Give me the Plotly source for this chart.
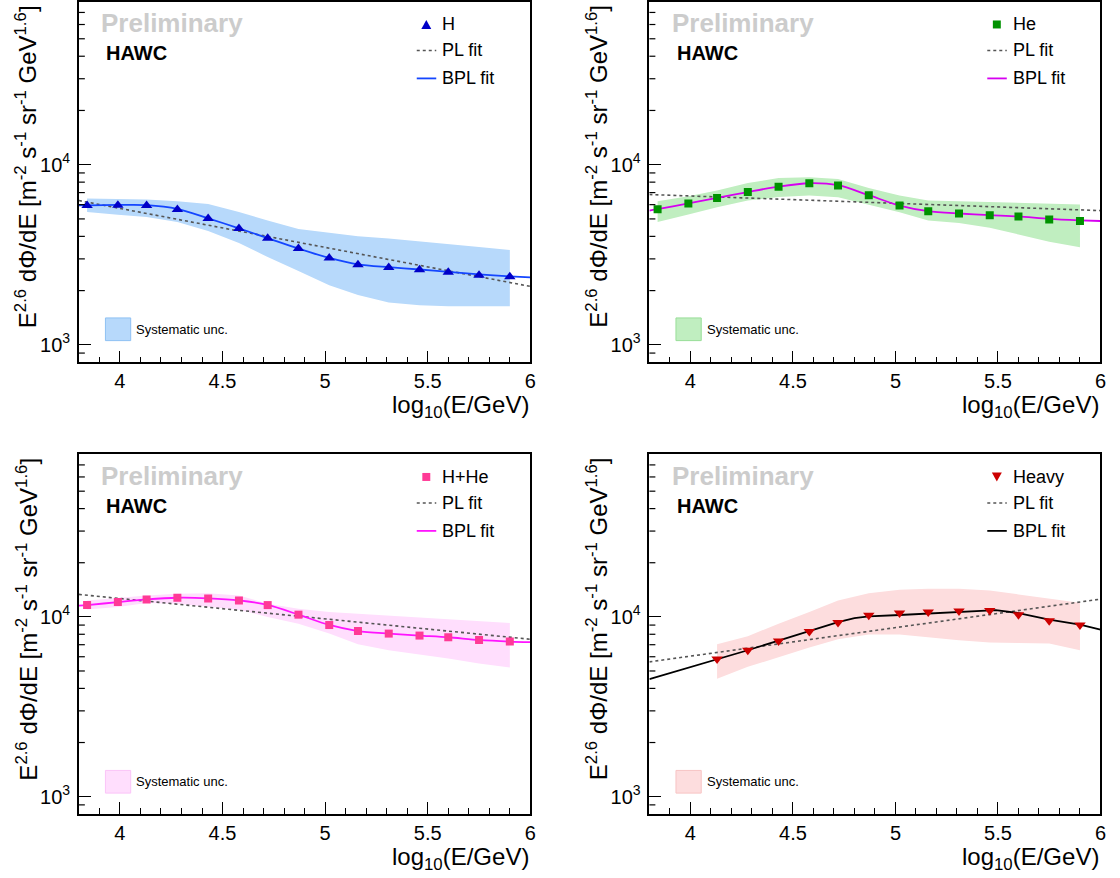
import math
import plotly.graph_objects as go

W, H = 1120, 878
FONT = "Liberation Sans, Arial, Helvetica, sans-serif"

# ---------------- data ----------------
log_e = [3.84, 3.99, 4.13, 4.28, 4.43, 4.58, 4.72, 4.87, 5.02, 5.16, 5.31, 5.46, 5.60, 5.75, 5.90]
heavy_e = [4.13, 4.28, 4.43, 4.58, 4.72, 4.87, 5.02, 5.16, 5.31, 5.46, 5.60, 5.75, 5.90]

h_flux = [5930, 5950, 5930, 5640, 5020, 4420, 3910, 3430, 3030, 2780, 2690, 2610, 2530, 2430, 2390]
h_sys_hi = [6490, 6460, 6400, 6260, 6050, 5470, 4900, 4400, 4180, 4010, 3890, 3760, 3640, 3490, 3360]
h_sys_lo = [5470, 5280, 5130, 4800, 4280, 3680, 3070, 2570, 2140, 1890, 1720, 1660, 1640, 1640, 1640]

he_flux = [5656, 6085, 6534, 7053, 7554, 7880, 7653, 6764, 5930, 5515, 5355, 5241, 5155, 4962, 4875]
he_sys_hi = [6265, 6676, 7180, 7913, 8430, 8505, 8325, 7422, 6735, 6321, 6265, 6210, 6130, 6085, 6007]
he_sys_lo = [4813, 5288, 5803, 6321, 6617, 6735, 6592, 6007, 5445, 4898, 4751, 4459, 4099, 3730, 3486]

hhe_flux = [11626, 12080, 12503, 12777, 12663, 12344, 11626, 10285, 9006, 8343, 8071, 7868, 7700, 7436, 7291]
hhe_sys_hi = [12344, 12777, 13154, 13443, 13548, 13154, 11834, 11100, 10632, 10416, 10153, 9936, 9650, 9444, 9241]
hhe_sys_lo = [11004, 11334, 11924, 11834, 11436, 10962, 9975, 9169, 8071, 7040, 6522, 6174, 5867, 5505, 5231]

heavy_flux = [5836, 6522, 7344, 8279, 9288, 10193, 10497, 10632, 10780, 10850, 10285, 9526, 9006]
heavy_sys_hi = [7040, 7798, 9169, 10632, 12344, 13548, 14149, 14331, 14331, 14024, 13330, 12614, 11988]
heavy_sys_lo = [4523, 5272, 5943, 6752, 7505, 7969, 7969, 7728, 7409, 7196, 7160, 7104, 6522]

# fitted curves
fit_e = [3.80, 3.84, 3.99, 4.13, 4.28, 4.43, 4.58, 4.72, 4.87, 5.02, 5.16, 5.31, 5.46, 5.60, 5.75, 5.90, 6.00]
h_bpl = [5950, 5950, 5980, 5970, 5690, 5040, 4430, 3910, 3420, 3040, 2800, 2700, 2620, 2540, 2460, 2400, 2370]
he_bpl = [5560, 5660, 6090, 6540, 7050, 7560, 7890, 7690, 6770, 5930, 5520, 5360, 5250, 5160, 5000, 4910, 4870]
hhe_bpl = [11550, 11630, 12080, 12500, 12770, 12680, 12350, 11640, 10290, 9010, 8340, 8070, 7870, 7700, 7440, 7290, 7230]
heavy_fit_e = [3.80, 4.13, 4.28, 4.43, 4.58, 4.72, 4.80, 4.87, 5.02, 5.16, 5.31, 5.49, 5.60, 5.75, 5.90, 6.00]
heavy_bpl = [4505, 5790, 6520, 7380, 8310, 9360, 9850, 10060, 10240, 10420, 10630, 10910, 10500, 9650, 9050, 8500]

pl_e = [3.80, 4.90, 6.00]
h_pl = [6320, 3650, 2110]
he_pl = [6830, 6160, 5560]
hhe_pl = [13330, 10000, 7505]
heavy_pl = [5619, 8400, 12550]

x_tick_vals = [4, 4.5, 5, 5.5, 6]
y_tick_vals = [1000, 10000]
y_tick_text = ["10<sup>3</sup>", "10<sup>4</sup>"]
y_minor_vals = [900, 2000, 3000, 4000, 5000, 6000, 7000, 8000, 9000,
                20000, 30000, 40000, 50000, 60000, 70000]
Y_MIN, Y_MAX = 800, 80000

YTITLE = ("E<sup>2.6</sup> dΦ/dE [m<sup>-2</sup> s<sup>-1</sup> sr<sup>-1</sup> "
          "GeV<sup>1.6</sup>]")
XTITLE = "log<sub>10</sub>(E/GeV)"

# ---------------- panel definitions (pixel frames) ----------------
panels = [
    dict(sfx="", box=(79.3, 533.2, 1.0, 361.7), label="H",
         e=log_e, flux=h_flux, hi=h_sys_hi, lo=h_sys_lo,
         fe=fit_e, bpl=h_bpl, pl=h_pl, shape="spline",
         symbol="triangle-up", msize=10, mcolor="#0000c8", lcolor="#1446ff",
         band="#b7d9fb", bandline="#8fc1f3", glyph="up"),
    dict(sfx="2", box=(652.9, 1106.4, 1.0, 361.7), label="He",
         e=log_e, flux=he_flux, hi=he_sys_hi, lo=he_sys_lo,
         fe=fit_e, bpl=he_bpl, pl=he_pl, shape="spline",
         symbol="square", msize=8, mcolor="#009200", lcolor="#d600f0",
         band="#c0eec0", bandline="#98de98", glyph="sq"),
    dict(sfx="3", box=(79.3, 533.2, 454.0, 814.0), label="H+He",
         e=log_e, flux=hhe_flux, hi=hhe_sys_hi, lo=hhe_sys_lo,
         fe=fit_e, bpl=hhe_bpl, pl=hhe_pl, shape="spline",
         symbol="square", msize=8, mcolor="#ff3a96", lcolor="#ff14ff",
         band="#ffdefd", bandline="#fbc4f8", glyph="sq"),
    dict(sfx="4", box=(652.9, 1106.4, 454.0, 814.0), label="Heavy",
         e=heavy_e, flux=heavy_flux, hi=heavy_sys_hi, lo=heavy_sys_lo,
         fe=heavy_fit_e, bpl=heavy_bpl, pl=heavy_pl, shape="linear",
         symbol="triangle-down", msize=10, mcolor="#cc0000", lcolor="#000000",
         band="#fdddde", bandline="#f7c4c4", glyph="down"),
]


def fx(px):
    return px / W


def fy(py):
    return 1 - py / H


fig = go.Figure()
shapes = []
annotations = []
layout_axes = {}

for p in panels:
    L, R, T, B = p["box"]
    xa = "x" + p["sfx"]
    ya = "y" + p["sfx"]

    # systematic band
    fig.add_trace(go.Scatter(
        x=list(p["e"]) + list(p["e"])[::-1],
        y=list(p["hi"]) + list(p["lo"])[::-1],
        fill="toself", fillcolor=p["band"], line=dict(width=0),
        mode="lines", hoverinfo="skip", xaxis=xa, yaxis=ya))
    # PL fit
    fig.add_trace(go.Scatter(
        x=pl_e, y=p["pl"], mode="lines",
        line=dict(color="#555555", width=1.6, dash="3px,3px"),
        xaxis=xa, yaxis=ya))
    # BPL fit
    fig.add_trace(go.Scatter(
        x=p["fe"], y=p["bpl"], mode="lines",
        line=dict(color=p["lcolor"], width=1.8, shape=p["shape"], smoothing=0.8),
        xaxis=xa, yaxis=ya))
    # data points
    fig.add_trace(go.Scatter(
        x=p["e"], y=p["flux"], mode="markers",
        marker=dict(symbol=p["symbol"], size=p["msize"], color=p["mcolor"],
                    line=dict(width=0)),
        xaxis=xa, yaxis=ya))

    layout_axes["xaxis" + p["sfx"]] = dict(
        domain=[fx(L), fx(R)], range=[3.8, 6.0], anchor=ya,
        showline=True, mirror=True, linecolor="black", linewidth=1.5,
        showgrid=False, zeroline=False,
        tickmode="array", tickvals=x_tick_vals,
        ticks="inside", ticklen=12, tickwidth=1.2, tickcolor="black",
        minor=dict(ticks="inside", ticklen=6, tickwidth=1.2, tickcolor="black",
                   dtick=0.1, tick0=3.8),
        tickfont=dict(family=FONT, size=20, color="black"))
    layout_axes["yaxis" + p["sfx"]] = dict(
        type="log", domain=[fy(B), fy(T)],
        range=[math.log10(Y_MIN), math.log10(Y_MAX)], anchor=xa,
        showline=True, mirror=True, linecolor="black", linewidth=1.5,
        showgrid=False, zeroline=False,
        tickmode="array", tickvals=y_tick_vals, ticktext=y_tick_text,
        ticks="inside", ticklen=12, tickwidth=1.2, tickcolor="black",
        ticklabelstandoff=3,
        tickfont=dict(family=FONT, size=20, color="black"))

    # minor log ticks on the y axis (drawn as short tick lines)
    lo_l, hi_l = math.log10(Y_MIN), math.log10(Y_MAX)
    for v in y_minor_vals:
        py = B - (math.log10(v) - lo_l) / (hi_l - lo_l) * (B - T)
        shapes.append(dict(type="line", xref="paper", yref="paper",
                           x0=fx(L), x1=fx(L + 6), y0=fy(py), y1=fy(py),
                           line=dict(color="black", width=1.2)))

    # axis titles
    annotations.append(dict(
        xref="paper", yref="paper", x=fx(L - 52.5), y=fy(T + 1),
        xanchor="center", yanchor="top", textangle=-90, text=YTITLE,
        showarrow=False, font=dict(family=FONT, size=24, color="black")))
    annotations.append(dict(
        xref="paper", yref="paper", x=fx(R + 1), y=fy(B + 44),
        xanchor="right", yanchor="middle", text=XTITLE,
        showarrow=False, font=dict(family=FONT, size=24, color="black")))

    # Preliminary / HAWC
    annotations.append(dict(
        xref="paper", yref="paper", x=fx(L + 20.5), y=fy(T + 21.5),
        xanchor="left", yanchor="middle", text="Preliminary",
        showarrow=False,
        font=dict(family=FONT, size=26, color="#cccccc", weight="bold")))
    annotations.append(dict(
        xref="paper", yref="paper", x=fx(L + 25.5), y=fy(T + 51.5),
        xanchor="left", yanchor="middle", text="HAWC",
        showarrow=False,
        font=dict(family=FONT, size=20, color="black", weight="bold")))

    # legend
    rows = [T + 22.5, T + 48.5, T + 76.5]
    cx, cy = L + 349.3, rows[0]
    if p["glyph"] == "up":
        pts = [(cx - 5, cy + 4.5), (cx + 5, cy + 4.5), (cx, cy - 4.5)]
    elif p["glyph"] == "down":
        pts = [(cx - 5, cy - 4.5), (cx + 5, cy - 4.5), (cx, cy + 4.5)]
    else:
        pts = [(cx - 4, cy - 4), (cx + 4, cy - 4), (cx + 4, cy + 4), (cx - 4, cy + 4)]
    path = "M " + " L ".join(f"{fx(a):.5f},{fy(b):.5f}" for a, b in pts) + " Z"
    shapes.append(dict(type="path", xref="paper", yref="paper", path=path,
                       fillcolor=p["mcolor"], line=dict(width=0)))
    shapes.append(dict(type="line", xref="paper", yref="paper",
                       x0=fx(L + 339.7), x1=fx(L + 359.3), y0=fy(rows[1]), y1=fy(rows[1]),
                       line=dict(color="#555555", width=1.6, dash="3px,3px")))
    shapes.append(dict(type="line", xref="paper", yref="paper",
                       x0=fx(L + 339.7), x1=fx(L + 359.3), y0=fy(rows[2]), y1=fy(rows[2]),
                       line=dict(color=p["lcolor"], width=1.8)))
    for txt, ry in zip([p["label"], "PL fit", "BPL fit"], rows):
        annotations.append(dict(
            xref="paper", yref="paper", x=fx(L + 363.5), y=fy(ry),
            xanchor="left", yanchor="middle", text=txt, showarrow=False,
            font=dict(family=FONT, size=18, color="black")))

    # systematic legend box
    shapes.append(dict(type="rect", xref="paper", yref="paper",
                       x0=fx(L + 26.7), x1=fx(L + 52.1), y0=fy(T + 339), y1=fy(T + 316.3),
                       fillcolor=p["band"], line=dict(color=p["bandline"], width=1)))
    annotations.append(dict(
        xref="paper", yref="paper", x=fx(L + 55.5), y=fy(T + 327.7),
        xanchor="left", yanchor="middle", text="Systematic unc.", showarrow=False,
        font=dict(family=FONT, size=13, color="black")))

fig.update_layout(
    width=W, height=H, autosize=False,
    margin=dict(l=0, r=0, t=0, b=0),
    paper_bgcolor="white", plot_bgcolor="white",
    showlegend=False,
    shapes=shapes, annotations=annotations,
    font=dict(family=FONT),
    **layout_axes)

fig.write_html("out.html")
